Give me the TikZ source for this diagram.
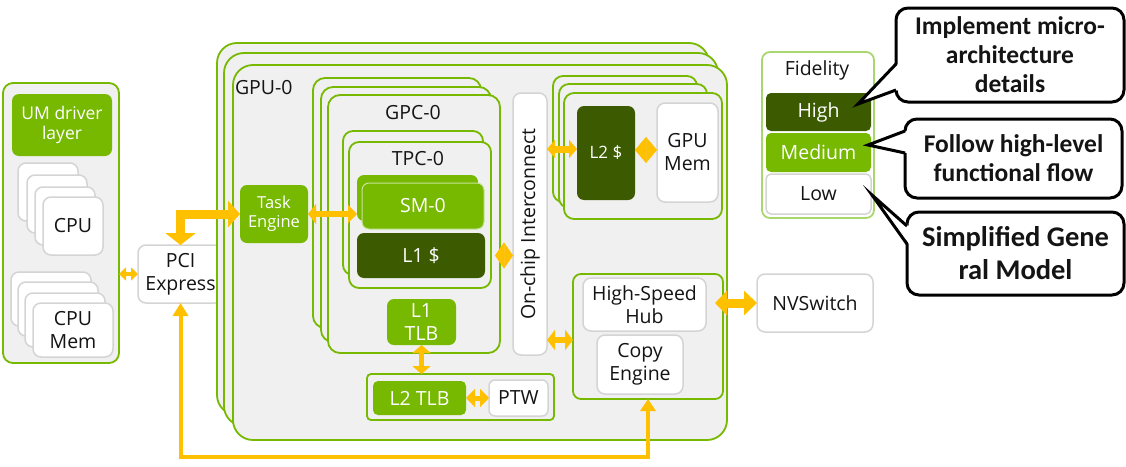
\documentclass[tikz,border=0pt]{standalone}
\usepackage{fontspec}
\setmainfont{Open Sans}
\newfontfamily\callfont{Carlito}
\usetikzlibrary{arrows.meta,calc}
\definecolor{nvgreen}{HTML}{76B900}
\definecolor{darkgreen}{HTML}{3C5A00}
\definecolor{panelgray}{HTML}{F0F0F0}
\definecolor{edgegray}{HTML}{D4D4D4}
\definecolor{arrowc}{HTML}{FFC000}
\definecolor{lightgreen}{HTML}{A9D66E}
\newcommand\mainsz{\fontsize{19.5}{23}\selectfont}
\newcommand\smallsz{\fontsize{16.5}{19}\selectfont}
\newcommand\umsz{\fontsize{17.5}{20}\selectfont}
\newcommand\callsz{\fontsize{25.5}{29}\selectfont}
\newcommand\bigcallsz{\fontsize{28.5}{33}\selectfont}
\begin{document}
\begin{tikzpicture}[x=1pt,y=-1pt,
  every node/.style={inner sep=0pt,outer sep=0pt,align=center,font=\mainsz,text=black!92},
  cont/.style={draw=nvgreen,line width=1.8pt,fill=panelgray,rounded corners=#1},
  cont/.default=12pt,
  wbox/.style={draw=edgegray,line width=1.5pt,fill=white,rounded corners=8pt},
  gbox/.style={fill=nvgreen,rounded corners=7pt,text=white},
  dbox/.style={fill=darkgreen,rounded corners=7pt,text=white},
  callbox/.style={draw=black,line width=3pt,fill=white,rounded corners=12pt,font=\callfont\bfseries\callsz},
  ptr/.style={draw=black,line width=3pt,line join=miter},
  conn/.style={draw=arrowc,line join=miter},
]
\useasboundingbox (0,0) rectangle (1126,466);

% ---------------- host panel ----------------
\node[cont=10pt,minimum width=116,minimum height=280] (host) at (61,223) {};
\node[gbox,minimum width=100,minimum height=62,font=\umsz] (um) at (62,125) {UM driver\\layer};
\node[wbox,minimum width=60,minimum height=58] (cpuc) at (48,192) {};
\node[wbox,minimum width=60,minimum height=58] (cpub) at (57,204) {};
\node[wbox,minimum width=60,minimum height=58] (cpua) at (65,216) {};
\node[wbox,minimum width=60,minimum height=58] (cpu) at (73,226) {CPU};
\node[wbox,minimum width=80,minimum height=54] (cmc) at (51,299) {};
\node[wbox,minimum width=80,minimum height=54] (cmb) at (58,309) {};
\node[wbox,minimum width=80,minimum height=54] (cma) at (65,320) {};
\node[wbox,minimum width=80,minimum height=54] (cmem) at (73,330) {CPU\\Mem};

\node[wbox,minimum width=85,minimum height=58] (pci) at (180.5,274) {PCI\\Express};

% ---------------- GPU ----------------
\node[cont=20pt,minimum width=492,minimum height=372] (gpub) at (463,229) {};
\node[cont=20pt,minimum width=494,minimum height=373] (gpua) at (471,239.5) {};
\node[cont=20pt,minimum width=494,minimum height=375] (gpu) at (480,252.5) {};
\node[anchor=west] (gpulbl) at (235,88) {GPU-0};

\node[gbox,minimum width=68,minimum height=58,font=\smallsz] (te) at (274,214) {Task\\Engine};

% GPC stack
\node[cont,minimum width=168,minimum height=250] (gpcb) at (397,203) {};
\node[cont,minimum width=170,minimum height=255] (gpca) at (406,214.5) {};
\node[cont,minimum width=172,minimum height=258] (gpc) at (414,224) {};
\node (gpclbl) at (413,113) {GPC-0};

% TPC stack
\node[cont=10pt,minimum width=140,minimum height=144] (tpcb) at (413,203) {};
\node[cont=10pt,minimum width=142,minimum height=146] (tpc) at (420,215) {};
\node (tpclbl) at (418,159) {TPC-0};

\node[gbox,minimum width=121,minimum height=46] (smb) at (417.5,198) {};
\node[gbox,draw=white!60!nvgreen,line width=1pt,minimum width=122,minimum height=46] (sm) at (423,206) {SM-0};
\node[dbox,minimum width=128,minimum height=45] (l1c) at (421,255.5) {L1 \$};
\node[gbox,minimum width=69,minimum height=46] (l1tlb) at (421.5,322) {L1\\TLB};

% interconnect
\node[wbox,minimum width=34,minimum height=262] (ic) at (530,224) {};
\node[rotate=90] (iclbl) at (ic.center) {On-chip Interconnect};

% L2 stack
\node[cont=10pt,minimum width=144,minimum height=126] (l2sb) at (625,139) {};
\node[cont=10pt,minimum width=148,minimum height=124] (l2sa) at (633,146) {};
\node[cont=10pt,minimum width=158,minimum height=126] (l2s) at (643,156) {};
\node[dbox,minimum width=58,minimum height=94,font=\fontsize{17}{20}\selectfont] (l2c) at (606,153) {L2 \$};
\node[wbox,minimum width=61,minimum height=99] (gmem) at (687.5,152.5) {GPU\\Mem};

% hub
\node[cont=8pt,minimum width=150,minimum height=125] (hshc) at (648,336.5) {};
\node[wbox,minimum width=123,minimum height=53] (hsh) at (644.5,304.5) {High-Speed\\Hub};
\node[wbox,minimum width=86,minimum height=59] (ce) at (640,364.5) {Copy\\Engine};

% L2 TLB
\node[cont=4pt,minimum width=187,minimum height=46] (l2tc) at (460.5,397) {};
\node[gbox,rounded corners=5pt,minimum width=93,minimum height=34] (l2tlb) at (419.5,398) {L2 TLB};
\node[wbox,rounded corners=6pt,minimum width=59,minimum height=36] (ptw) at (518.5,398) {PTW};

\node[wbox,minimum width=116,minimum height=58] (nvs) at (815,303) {NVSwitch};

% ---------------- connectors ----------------
\draw[conn,line width=3.5pt,{Triangle[width=13pt,length=7pt]}-{Triangle[width=13pt,length=7pt]}]
  (pci.west -| host.east) -- (pci.west);
\draw[conn,line width=9pt,{Triangle[width=30pt,length=12pt]}-{Triangle[width=26pt,length=12pt]}]
  (pci.north) |- (te.west);
\draw[conn,line width=6pt,{Triangle[width=20pt,length=8pt]}-{Triangle[width=18pt,length=9pt]}]
  (te.east) -- (te.east -| smb.west);
\draw[conn,line width=0.5pt,{Triangle[width=26pt,length=9pt]}-{Triangle[width=26pt,length=9pt]}]
  ($(l1c.east)+(10,0)$) -- (l1c.east -| ic.west);
\coordinate (p5) at ($(l2c.west)+(0,-4)$);
\draw[conn,line width=7pt,{Triangle[width=18pt,length=8pt]}-{Triangle[width=18pt,length=8pt]}]
  (p5 -| ic.east) -- (p5);
\draw[conn,line width=0.5pt,{Triangle[width=26pt,length=11pt]}-{Triangle[width=26pt,length=11pt]}]
  ($(l2c.east)+(0,-3)$) -- ($(l2c.east -| gmem.west)+(0,-3)$);
\coordinate (p7) at ($(hshc.west)+(0,3.5)$);
\draw[conn,line width=6pt,{Triangle[width=20pt,length=8pt]}-{Triangle[width=20pt,length=8pt]}]
  (p7 -| ic.east) -- (p7);
\draw[conn,line width=9pt,{Triangle[width=24pt,length=12pt]}-{Triangle[width=24pt,length=13pt]}]
  ($(hsh.east)+(9,-1.5)$) -- ($(hsh.east -| nvs.west)+(0,-1.5)$);
\draw[conn,line width=5pt,{Triangle[width=18pt,length=8pt]}-{Triangle[width=18pt,length=8pt]}]
  (l1tlb.south) -- (l1tlb.south |- l2tc.north);
\draw[conn,line width=5pt,{Triangle[width=18pt,length=9pt]}-{Triangle[width=18pt,length=9pt]}]
  (l2tlb.east) -- (l2tlb.east -| ptw.west);
\coordinate (bl) at (0,457);
\draw[conn,line width=4pt,{Triangle[width=15pt,length=13pt]}-{Triangle[width=15pt,length=12pt]}]
  (pci.south) -- (pci.south |- bl) -| (hshc.south);

% ---------------- fidelity ----------------
\node[draw=lightgreen,line width=1.8pt,fill=white,rounded corners=8pt,minimum width=112,minimum height=166] (fid) at (818,135) {};
\node (fidlbl) at (817,70) {Fidelity};
\node[fill=darkgreen,rounded corners=5pt,text=white,minimum width=105,minimum height=38] (high) at (818.5,112) {High};
\node[fill=nvgreen,rounded corners=5pt,text=white,minimum width=105,minimum height=39] (med) at (818.5,152.5) {Medium};
\node[wbox,rounded corners=5pt,minimum width=105,minimum height=40] (low) at (818.5,194) {Low};

% ---------------- callouts ----------------
\node[callbox,minimum width=228,minimum height=94] (c1) at (1010,55) {Implement micro-\\architecture\\details};
\node[callbox,minimum width=217,minimum height=79] (c2) at (1013.5,158.5) {Follow high-level\\functional flow};
\node[callbox,minimum width=217,minimum height=83,font=\callfont\bfseries\bigcallsz] (c3) at (1015.5,253.5) {Simplified Gene\\ral Model};

\coordinate (t1) at ($(high.east)+(-13,-8)$);
\coordinate (t2) at ($(med.east)+(-3,-7.5)$);
\coordinate (t3) at ($(low.east)+(1,1)$);
\fill[white] ($(c1.west)+(2,9)$) -- (t1) -- ($(c1.west)+(2,35)$) -- cycle;
\draw[ptr] ($(c1.west)+(0,9)$) -- (t1) -- ($(c1.west)+(0,35)$);
\fill[white] ($(c2.west)+(2,-27.5)$) -- (t2) -- ($(c2.west)+(2,-5.5)$) -- cycle;
\draw[ptr] ($(c2.west)+(0,-27.5)$) -- (t2) -- ($(c2.west)+(0,-5.5)$);
\fill[white] ($(c3.west)+(2,-27.5)$) -- (t3) -- ($(c3.west)+(2,-9.5)$) -- cycle;
\draw[ptr] ($(c3.west)+(0,-27.5)$) -- (t3) -- ($(c3.west)+(0,-9.5)$);
\end{tikzpicture}
\end{document}
